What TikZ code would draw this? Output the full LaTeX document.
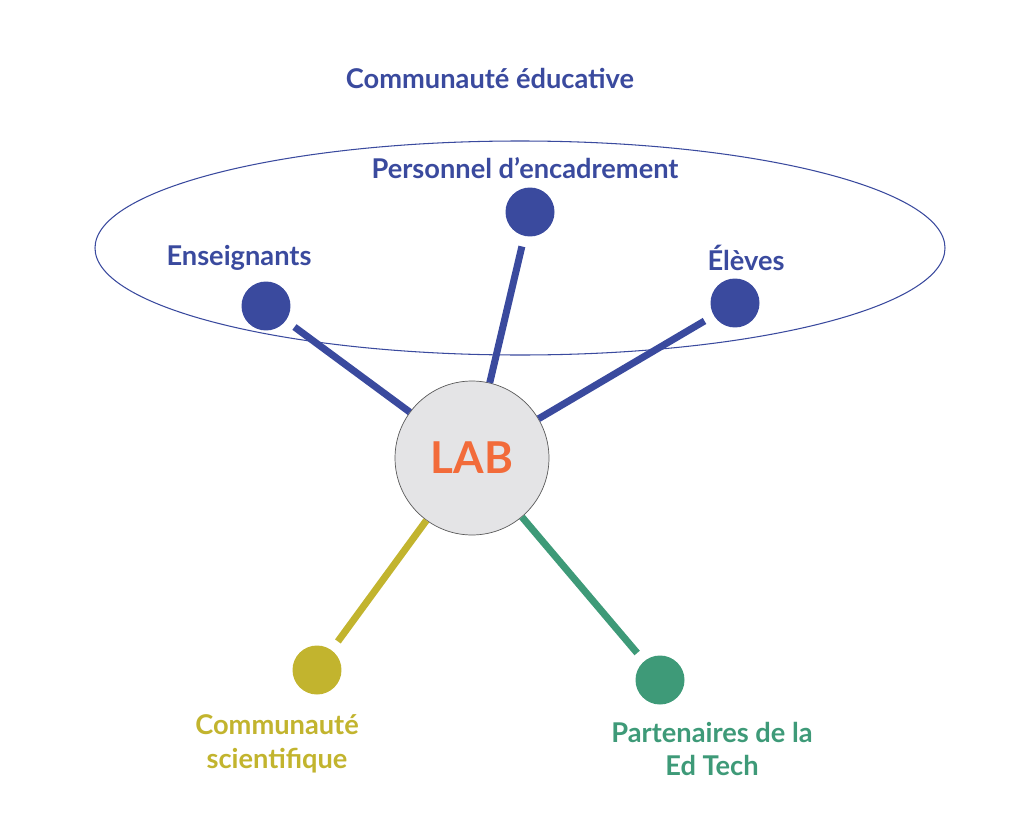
\documentclass[tikz,border=0pt]{standalone}
\usepackage{fontspec}
\setmainfont{Lato}
\usetikzlibrary{positioning}
\definecolor{blueedu}{HTML}{3A4A9E}
\definecolor{labgray}{HTML}{E4E4E6}
\definecolor{labor}{HTML}{F26B3A}
\definecolor{sciyel}{HTML}{C2B42E}
\definecolor{techgr}{HTML}{3E9A78}
\begin{document}
\begin{tikzpicture}[x=0.02cm,y=-0.02cm,
  dot/.style={circle,inner sep=0pt,minimum size=0.98cm},
  lbl/.style={font=\fontsize{15.5}{19}\selectfont\bfseries,align=center},
  link/.style={line width=1.4mm,shorten >=6pt}]
\useasboundingbox (0,0) rectangle (1024,821);
\node[lbl,text=blueedu] (title) at (490,78) {Communauté éducative};
\draw[blueedu,semithick] (520,248) ellipse [x radius=425,y radius=107];
% central lab
\node[circle,draw=gray!70!black,fill=labgray,minimum size=3.08cm,inner sep=0pt,
  font=\fontsize{25}{30}\selectfont\bfseries,text=labor] (lab) at (472,458) {LAB};
% surrounding dots
\node[dot,fill=blueedu] (ens) at (266,306) {};
\node[dot,fill=blueedu] (pers) at (530,212) {};
\node[dot,fill=blueedu] (elev) at (735,303) {};
\node[dot,fill=sciyel] (sci) at (317,670) {};
\node[dot,fill=techgr] (tech) at (660,680) {};
\draw[link,blueedu] (lab) -- (ens);
\draw[link,blueedu] (lab) -- (pers);
\draw[link,blueedu] (lab) -- (elev);
\draw[link,sciyel] (lab) -- (sci);
\draw[link,techgr] (lab) -- (tech);
% labels
\node[lbl,text=blueedu] at (239,258) {Enseignants};
\node[lbl,text=blueedu] at (525,168) {Personnel d’encadrement};
\node[lbl,text=blueedu] at (746,258) {Élèves};
\node[lbl,text=sciyel] at (277,744) {Communauté\\scientifique};
\node[lbl,text=techgr] at (712,749) {Partenaires de la\\Ed Tech};
\end{tikzpicture}
\end{document}
